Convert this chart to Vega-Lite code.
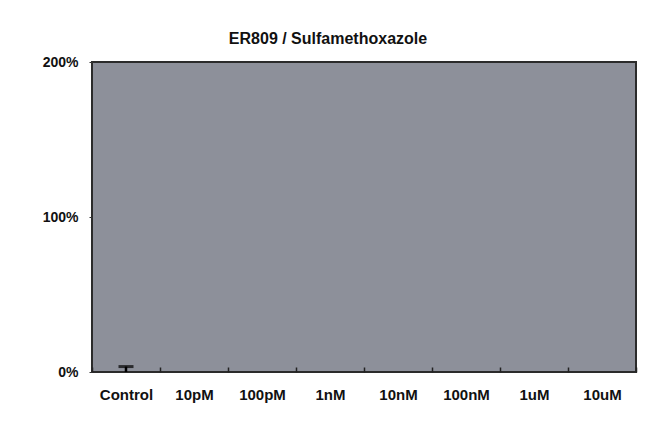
{
  "$schema": "https://vega.github.io/schema/vega-lite/v6.json",
  "width": 544,
  "height": 310,
  "autosize": {"type": "none"},
  "padding": {"left": 92, "top": 62, "right": 16, "bottom": 59},
  "background": "white",
  "title": {
    "text": "ER809 / Sulfamethoxazole",
    "font": "Liberation Sans",
    "fontSize": 16,
    "fontWeight": "bold",
    "color": "#111111",
    "anchor": "middle",
    "dx": -36,
    "offset": 8
  },
  "data": {
    "values": [
      {"conc": "Control", "value": 0.0, "upper": 0.035},
      {"conc": "10pM", "value": 0.0, "upper": 0.0},
      {"conc": "100pM", "value": 0.0, "upper": 0.0},
      {"conc": "1nM", "value": 0.0, "upper": 0.0},
      {"conc": "10nM", "value": 0.0, "upper": 0.0},
      {"conc": "100nM", "value": 0.0, "upper": 0.0},
      {"conc": "1uM", "value": 0.0, "upper": 0.0},
      {"conc": "10uM", "value": 0.0, "upper": 0.0}
    ]
  },
  "encoding": {
    "x": {
      "field": "conc",
      "type": "nominal",
      "sort": null,
      "scale": {"paddingInner": 0, "paddingOuter": 0},
      "axis": {
        "title": null,
        "labelAngle": 0,
        "labelFont": "Liberation Sans",
        "labelFontSize": 15,
        "labelFontWeight": "bold",
        "labelColor": "#111111",
        "labelPadding": 20,
        "tickBand": "extent",
        "tickSize": -5,
        "tickColor": "#222222",
        "tickWidth": 1.5,
        "domain": false
      }
    }
  },
  "layer": [
    {
      "mark": {"type": "bar", "color": "#5a5a5a", "width": 30},
      "encoding": {
        "y": {
          "field": "value",
          "type": "quantitative",
          "scale": {"domain": [0, 2]},
          "axis": {
            "title": null,
            "values": [0, 1, 2],
            "format": ".0%",
            "grid": false,
            "domain": false,
            "labelFont": "Liberation Sans",
            "labelFontSize": 14,
            "labelFontWeight": "bold",
            "labelColor": "#111111",
            "labelPadding": 11,
            "tickSize": 3,
            "tickColor": "#333333"
          }
        }
      }
    },
    {
      "mark": {"type": "rule", "color": "#000000", "strokeWidth": 2.5},
      "encoding": {
        "y": {"field": "value", "type": "quantitative"},
        "y2": {"field": "upper"}
      }
    },
    {
      "transform": [{"filter": "datum.upper > datum.value"}],
      "mark": {"type": "tick", "color": "#000000", "thickness": 3, "size": 15},
      "encoding": {
        "y": {"field": "upper", "type": "quantitative"}
      }
    }
  ],
  "config": {
    "view": {"fill": "#8d909a", "stroke": "#2b2b2b", "strokeWidth": 2}
  }
}
